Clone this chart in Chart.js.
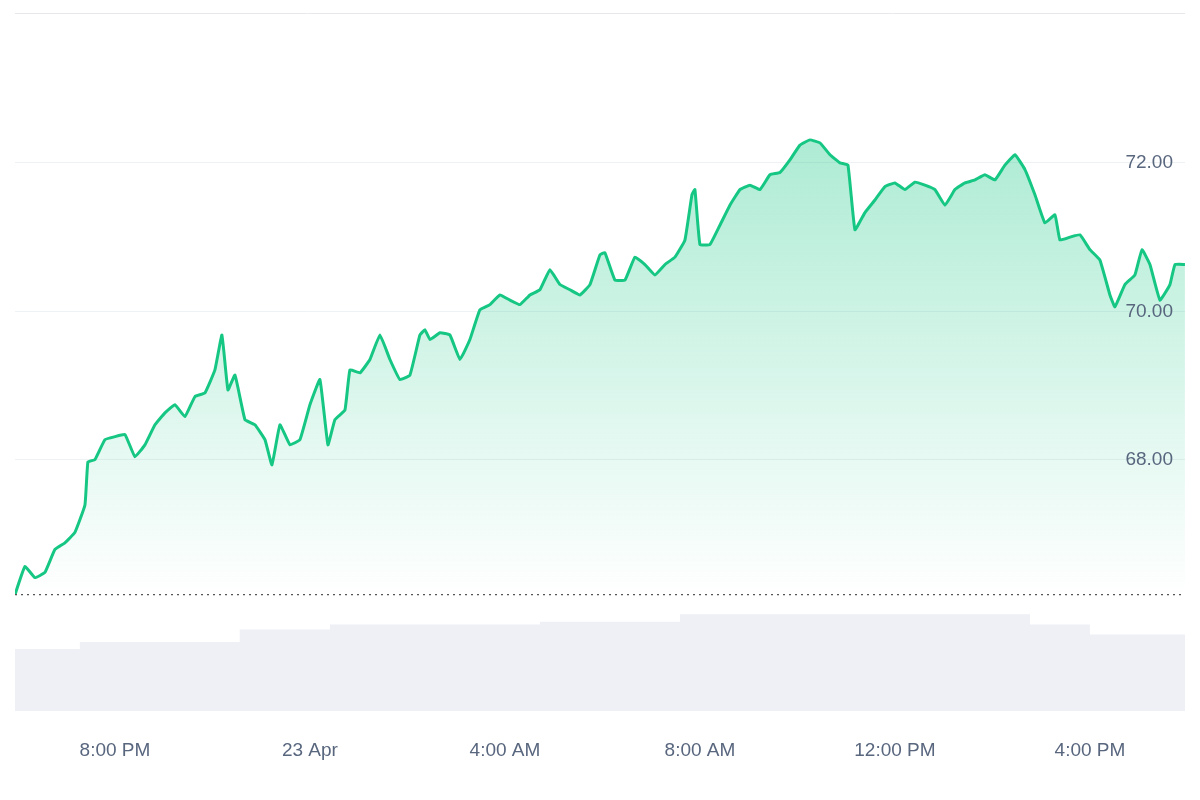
<!DOCTYPE html>
<html><head><meta charset="utf-8">
<script src="https://cdn.jsdelivr.net/npm/chart.js@4"></script>
<style>html,body{margin:0;background:#fff}#w{width:1200px;height:800px}</style>
</head><body><div id="w"><canvas id="c"></canvas></div>
<script>
// hours relative to 8:00 PM
const pricePx = [15,25,35,45,55,65,75,85,88,95,105,115,125,135,145,155,165,175,185,195,205,215,222,228,235,245,255,265,272,280,290,300,310,320,328,335,345,350,360,370,380,390,400,410,420,425,430,440,450,460,470,480,490,500,510,520,530,540,550,560,570,580,590,600,605,615,625,635,645,655,665,675,685,692,695,700,710,720,730,740,750,760,770,780,790,800,810,820,830,840,848,855,865,875,885,895,905,915,925,935,945,955,965,975,985,995,1005,1015,1025,1035,1045,1055,1060,1070,1080,1090,1100,1110,1115,1125,1135,1142,1150,1160,1170,1175,1185];
const priceTimes = pricePx.map(p => +((p - 115) / 48.75).toFixed(3));
const priceValues = [66.18,66.56,66.41,66.48,66.79,66.88,67.02,67.39,67.97,68.00,68.27,68.31,68.34,68.04,68.20,68.47,68.63,68.74,68.58,68.85,68.90,69.21,69.68,68.94,69.14,68.54,68.47,68.27,67.93,68.47,68.20,68.27,68.74,69.08,68.20,68.54,68.67,69.21,69.17,69.35,69.68,69.35,69.08,69.14,69.68,69.75,69.62,69.71,69.68,69.35,69.62,70.02,70.09,70.22,70.15,70.09,70.22,70.29,70.56,70.36,70.29,70.22,70.36,70.76,70.79,70.42,70.42,70.73,70.63,70.49,70.63,70.73,70.96,71.57,71.64,70.90,70.90,71.16,71.43,71.64,71.70,71.64,71.84,71.87,72.04,72.24,72.31,72.27,72.11,72.00,71.97,71.10,71.33,71.50,71.68,71.73,71.64,71.74,71.70,71.64,71.43,71.64,71.73,71.77,71.84,71.77,71.97,72.11,71.91,71.57,71.19,71.30,70.96,71.00,71.03,70.83,70.69,70.22,70.06,70.36,70.49,70.83,70.63,70.15,70.36,70.63,70.63];
const volumeTimes = [-2.05,-0.72,2.56,4.41,8.72,11.59,18.77,20.0,21.95];
const volumeValues = [8.9,9.9,11.7,12.4,12.8,13.9,12.4,11.0,11.0];
const tickHours = [0,4,8,12,16,20];
const tickLabels = ['8:00 PM','23 Apr','4:00 AM','8:00 AM','12:00 PM','4:00 PM'];
const yTicks = [68,70,72];
const basePrice = priceValues[0];

const priceData = priceTimes.map((t,i)=>({x:t,y:priceValues[i]}));
const volData = volumeTimes.map((t,i)=>({x:t,y:volumeValues[i]}));

new Chart(document.getElementById('c'), {
  type:'line',
  data:{datasets:[
    {data:priceData, yAxisID:'y', borderColor:'#16c784', borderWidth:3, pointRadius:0, tension:0.1,
     fill:'start', order:1,
     backgroundColor:(ctx)=>{const {chart}=ctx; const a=chart.chartArea; if(!a) return 'rgba(22,199,132,0.2)';
       const ys=chart.scales.y; const g=chart.ctx.createLinearGradient(0,ys.getPixelForValue(72.3),0,ys.getPixelForValue(basePrice));
       g.addColorStop(0,'rgba(22,199,132,0.35)'); g.addColorStop(1,'rgba(22,199,132,0.0)'); return g;}},
    {data:[{x:-2.05,y:basePrice},{x:21.95,y:basePrice}], yAxisID:'y', borderColor:'#555', borderWidth:1.2, borderDash:[2,4], pointRadius:0, fill:false, order:0},
    {data:volData, yAxisID:'y2', stepped:true, borderWidth:0, pointRadius:0, fill:'origin', backgroundColor:'#eef0f5', order:2}
  ]},
  options:{
    responsive:true, maintainAspectRatio:false, animation:false,
    layout:{padding:{left:15,right:15,top:13,bottom:18}},
    plugins:{legend:{display:false},tooltip:{enabled:false}},
    scales:{
      x:{type:'linear', min:-2.05, max:21.95, grid:{display:false}, border:{display:false},
         afterBuildTicks:(s)=>{s.ticks=tickHours.map(v=>({value:v}));},
         ticks:{autoSkip:false, maxRotation:0, padding:20, color:'#58667e', font:{family:'Liberation Sans, Arial', size:19},
           callback:(v)=>tickLabels[tickHours.indexOf(v)]}},
      y:{position:'right', min:64.61, max:74.02,
         afterBuildTicks:(s)=>{s.ticks=yTicks.map(v=>({value:v}));},
         grid:{color:'#eff2f5', drawTicks:false}, border:{display:false},
         ticks:{display:false}},
      y2:{display:false, min:0, max:100}
    }
  },
  plugins:[{id:'topline',afterDraw(c){const a=c.chartArea,x=c.ctx;x.save();x.strokeStyle='#e6e8ec';x.lineWidth=1;x.beginPath();x.moveTo(a.left,a.top+0.5);x.lineTo(a.right,a.top+0.5);x.stroke();
    x.fillStyle='#58667e';x.font='19px "Liberation Sans", Arial';x.textAlign='right';x.textBaseline='middle';
    yTicks.forEach(v=>x.fillText(v.toFixed(2),a.right-12,c.scales.y.getPixelForValue(v)));x.restore();}}]
});
</script></body></html>
